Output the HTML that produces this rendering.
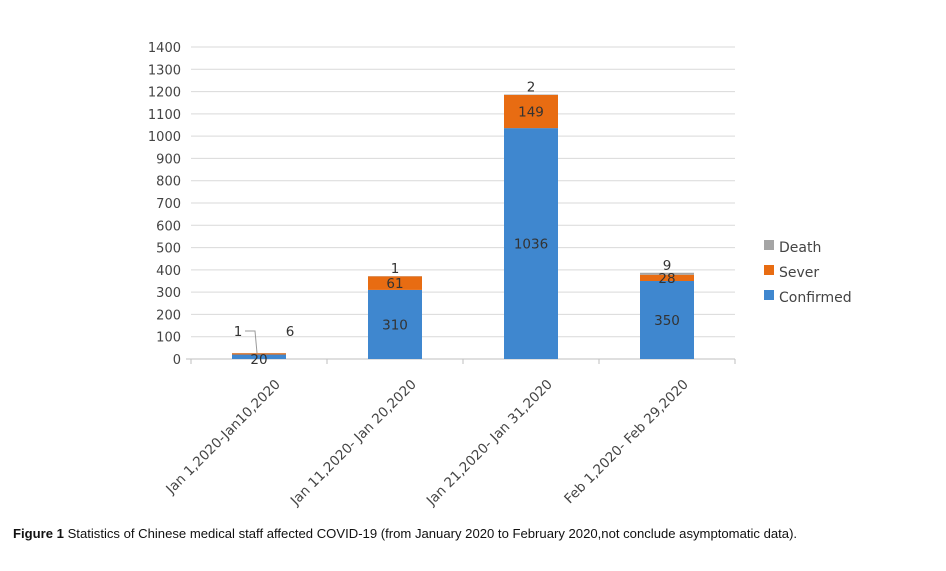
<!DOCTYPE html>
<html><head><meta charset="utf-8"><style>
body{margin:0;background:#fff;}
svg text{font-family:"DejaVu Sans","Liberation Sans",sans-serif;}
.cap{position:absolute;left:13px;top:526px;font-family:"Liberation Sans",sans-serif;font-size:13.1px;color:#111;white-space:nowrap;}
</style></head><body>
<div style="position:relative;width:946px;height:571px;overflow:hidden">
<svg id="chart" width="946" height="571"></svg>
<div class="cap"><b>Figure 1</b> Statistics of Chinese medical staff affected COVID-19 (from January 2020 to February 2020,not conclude asymptomatic data).</div>
</div>
<script>
const categories=["Jan 1,2020-Jan10,2020","Jan 11,2020- Jan 20,2020","Jan 21,2020- Jan 31,2020","Feb 1,2020- Feb 29,2020"];
const confirmed=[20,310,1036,350];
const sever=[6,61,149,28];
const death=[1,1,2,9];
const yTicks=[0,100,200,300,400,500,600,700,800,900,1000,1100,1200,1300,1400];
const NS="http://www.w3.org/2000/svg";
const svg=document.getElementById('chart');
const x0=191,x1=735,yB=359,yT=47,yMax=1400;
const band=(x1-x0)/categories.length,bw=54;
const y=v=>yB-(v/yMax)*(yB-yT);
const cx=i=>x0+band*(i+0.5);
function mk(t,a,txt){const e=document.createElementNS(NS,t);for(const k in a)e.setAttribute(k,a[k]);if(txt!==undefined)e.textContent=txt;svg.appendChild(e);return e;}
yTicks.forEach(v=>{
 if(v>0){const g=mk('line',{x1:x0,x2:x1,y1:y(v),y2:y(v),stroke:'#d9d9d9','stroke-width':1});
 
 }
 const t=mk('text',{x:181,y:y(v)+5,'text-anchor':'end','font-size':13,fill:'#444'},v);
 
 
});
const ax=mk('line',{x1:x0-5,x2:x1,y1:yB,y2:yB,stroke:'#bfbfbf'});


for(let i=0;i<=categories.length;i++){const tk=mk('line',{x1:x0+band*i,x2:x0+band*i,y1:yB,y2:yB+5,stroke:'#bfbfbf'});

}
categories.forEach((c,i)=>{
 const x=cx(i),l=x-bw/2;
 const r1=mk('rect',{x:l,y:y(confirmed[i]),width:bw,height:yB-y(confirmed[i]),fill:'#3f87cf'});
 
 
 const s0=confirmed[i],s1=s0+sever[i];
 const r2=mk('rect',{x:l,y:y(s1),width:bw,height:y(s0)-y(s1),fill:'#e86c12'});
 
 
 const s2=s1+death[i];
 const r3=mk('rect',{x:l,y:y(s2),width:bw,height:y(s1)-y(s2),fill:'#a5a5a5'});
 
 
 const small=i===0;
 const cy=small?yB+5:(y(s0)+yB)/2+5;
 const t1=mk('text',{x:x,y:cy,'text-anchor':'middle','font-size':13.5,fill:'#333'},confirmed[i]);
 
 
 let sx=x,sy=(y(s1)+y(s0))/2+5;
 if(small){sx=x+31;sy=y(s2)-17;}
 const t2=mk('text',{x:sx,y:sy,'text-anchor':'middle','font-size':13.5,fill:'#333'},sever[i]);
 
 
 let dx=x,dy=y(s2)-3;
 if(small){dx=x-21;dy=y(s2)-17;
  const p=mk('polyline',{points:`${x-14},${y(s2)-22} ${x-4},${y(s2)-22} ${x-2},${y(s2)}`,fill:'none',stroke:'#999'});
  
  }
 const t3=mk('text',{x:dx,y:dy,'text-anchor':'middle','font-size':13.5,fill:'#333'},death[i]);
 
 
 const xl=mk('text',{x:0,y:0,'text-anchor':'end','font-size':13.5,fill:'#444',transform:`translate(${x+22},${yB+26}) rotate(-45)`},c);
 
 
});
const legend=[["Death","#a5a5a5"],["Sever","#e86c12"],["Confirmed","#3f87cf"]];
legend.forEach((d,i)=>{
 const ly=251+i*25;
 const r=mk('rect',{x:764,y:ly-11,width:10,height:10,fill:d[1]});
 
 
 const t=mk('text',{x:779,y:ly+1,'font-size':14,fill:'#444'},d[0]);
 
 
});
</script>
</body></html>
